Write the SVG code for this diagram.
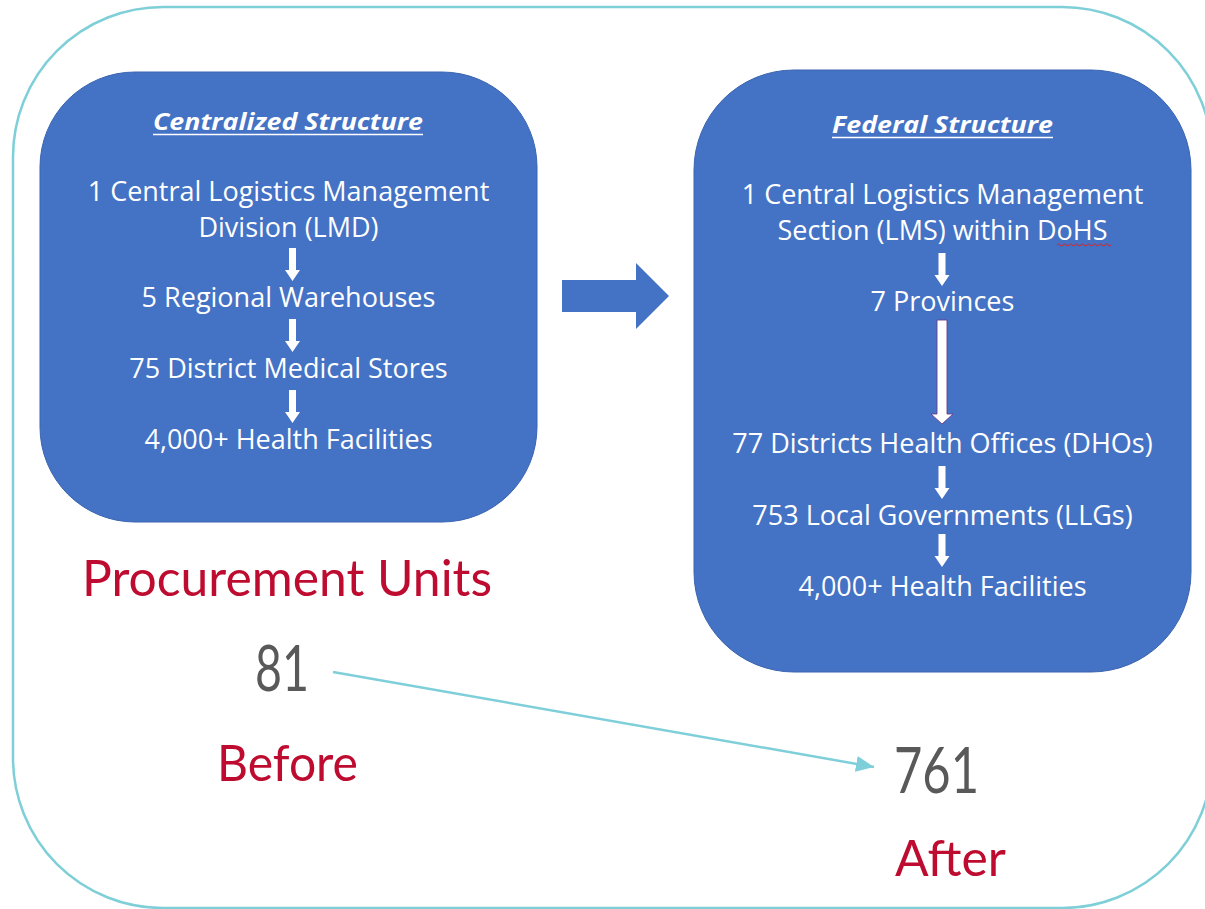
<svg xmlns="http://www.w3.org/2000/svg" width="1205" height="909" viewBox="0 0 1205 909">
<style>
.box{fill:#4472C4;stroke:#3A64B0;stroke-width:1}
.t{font-family:"Open Sans","Noto Sans","DejaVu Sans",sans-serif;font-size:27px;fill:#FFFFFF;text-anchor:middle}
.h{font-family:"Open Sans","Noto Sans","DejaVu Sans",sans-serif;font-size:24px;font-weight:bold;font-style:italic;fill:#FFFFFF;text-anchor:middle}
.ul{stroke:#FFFFFF;stroke-width:1.6}
.red{font-family:Lato,"Open Sans",sans-serif;fill:#BE0C30}
.num{font-family:Lato,"Open Sans",sans-serif;fill:#595959}
.sa{fill:#FFFFFF}
.conn{fill:none;stroke:#7ECFD9;stroke-width:2.5}
</style>
<defs>
<path id="sarrow" d="M-3.5,0 H3.5 V22 H7.5 L0,33 L-7.5,22 H-3.5 Z"/>
<marker id="ah" markerUnits="userSpaceOnUse" markerWidth="20" markerHeight="16" viewBox="0 0 20 16" refX="18" refY="8" orient="auto">
<path d="M0,0 L18,8 L0,16 Z" fill="#7ECFD9"/>
</marker>
</defs>
<rect id="frame" x="13" y="7" width="1199" height="901" rx="150" ry="150" fill="none" stroke="#7ECFD8" stroke-width="2.5"/>

<g id="centralized">
<rect class="box" x="40" y="72" width="497" height="450" rx="95" ry="95"/>
<text class="h" x="288" y="130" textLength="270" lengthAdjust="spacingAndGlyphs">Centralized Structure</text>
<line class="ul" x1="153" y1="134.5" x2="423" y2="134.5"/>
<text class="t" x="288.5" y="201">1 Central Logistics Management</text>
<text class="t" x="288.5" y="237">Division (LMD)</text>
<use href="#sarrow" class="sa" transform="translate(292.5,248)"/>
<text class="t" x="288.5" y="307">5 Regional Warehouses</text>
<use href="#sarrow" class="sa" transform="translate(292.5,319)"/>
<text class="t" x="288.5" y="378">75 District Medical Stores</text>
<use href="#sarrow" class="sa" transform="translate(292.5,390)"/>
<text class="t" x="288.5" y="449">4,000+ Health Facilities</text>
</g>

<g id="transition-arrow">
<path d="M562,280 H636 V263 L669,296 L636,329 V312 H562 Z" fill="#4472C4"/>
</g>

<g id="federal">
<rect class="box" x="694" y="70" width="497" height="602" rx="100" ry="100"/>
<text class="h" x="942.5" y="133" textLength="221" lengthAdjust="spacingAndGlyphs">Federal Structure</text>
<line class="ul" x1="832" y1="137.5" x2="1053" y2="137.5"/>
<text class="t" x="942.5" y="204">1 Central Logistics Management</text>
<text class="t" x="942.5" y="240">Section (LMS) within DoHS</text>
<path d="M1057,245 q1.5,-2 3,0 t3,0 t3,0 t3,0 t3,0 t3,0 t3,0 t3,0 t3,0 t3,0 t3,0 t3,0 t3,0 t3,0 t3,0 t3,0 t3,0 t3,0" fill="none" stroke="#E02020" stroke-width="1"/>
<use href="#sarrow" class="sa" transform="translate(942,253)"/>
<text class="t" x="942.5" y="311">7 Provinces</text>
<path d="M937,320 H947 V414 H953 L942,424 L931,414 H937 Z" fill="#FFFFFF" stroke="#6E3C8E" stroke-width="0.9"/>
<text class="t" x="942.5" y="453">77 Districts Health Offices (DHOs)</text>
<use href="#sarrow" class="sa" transform="translate(942,466)"/>
<text class="t" x="942.5" y="525">753 Local Governments (LLGs)</text>
<use href="#sarrow" class="sa" transform="translate(942,534)"/>
<text class="t" x="942.5" y="596">4,000+ Health Facilities</text>
</g>

<g id="labels">
<text class="red" x="82" y="596" font-size="50" textLength="410" lengthAdjust="spacingAndGlyphs">Procurement Units</text>
<text class="num" x="255" y="691" font-size="64" textLength="54" lengthAdjust="spacingAndGlyphs">81</text>
<text class="red" x="217" y="781" font-size="50" textLength="141" lengthAdjust="spacingAndGlyphs">Before</text>
<text class="num" x="894" y="793" font-size="64" textLength="85" lengthAdjust="spacingAndGlyphs">761</text>
<text class="red" x="895" y="876" font-size="50" textLength="111" lengthAdjust="spacingAndGlyphs">After</text>
</g>

<g id="connectors">
<path class="conn" d="M333,672 L874,767" marker-end="url(#ah)"/>
</g>
</svg>
